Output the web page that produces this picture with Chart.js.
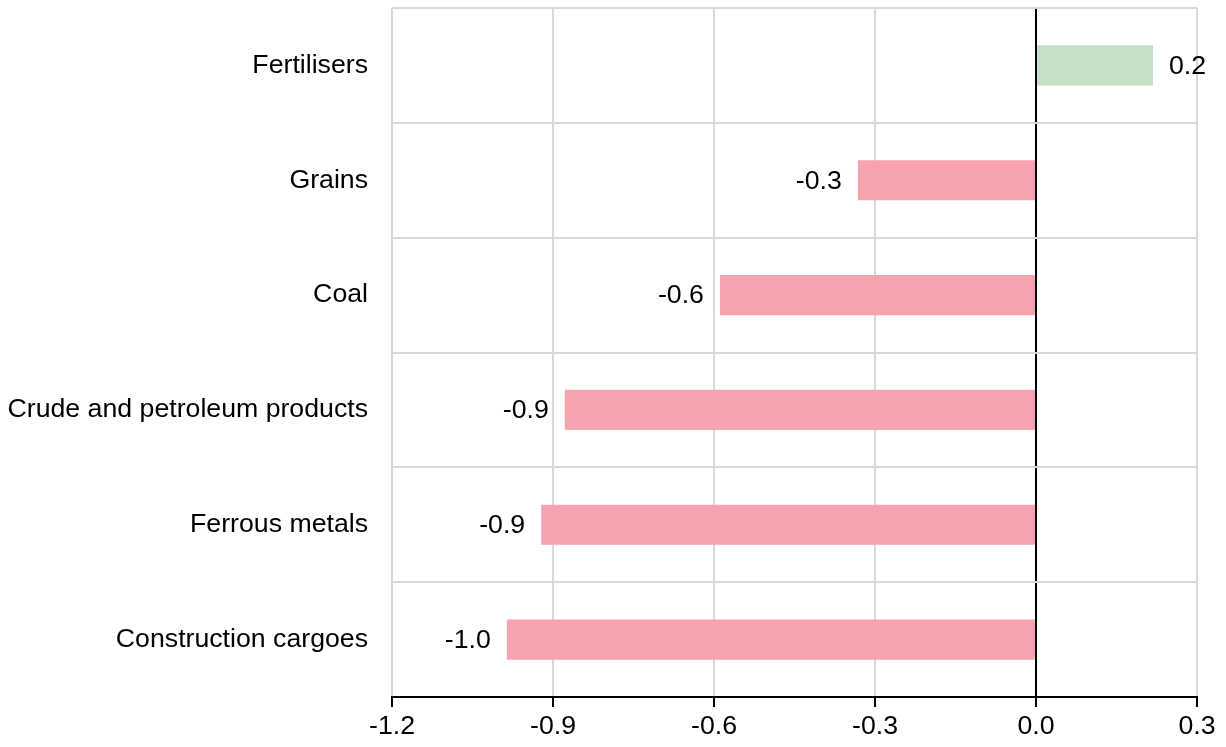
<!DOCTYPE html>
<html><head><meta charset="utf-8">
<script src="https://cdn.jsdelivr.net/npm/chart.js@4/dist/chart.umd.min.js"></script>
<style>html,body{margin:0;padding:0;background:#fff}#wrap{width:1226px;height:747px}</style>
</head><body><div id="wrap"><canvas id="c" width="1226" height="747"></canvas></div>
<script>
const categories = ["Fertilisers","Grains","Coal","Crude and petroleum products","Ferrous metals","Construction cargoes"];
const values = [0.218, -0.332, -0.589, -0.878, -0.922, -0.986];
const xMin = -1.2, xMax = 0.3, xStep = 0.3;
const FONT = "'Liberation Sans', Arial, sans-serif";
const FS = 26.7;

const labelPlugin = {
  id: 'barLabels',
  afterDatasetsDraw(chart) {
    const ctx = chart.ctx;
    const meta = chart.getDatasetMeta(0);
    ctx.save();
    ctx.font = FS + 'px ' + FONT;
    ctx.fillStyle = '#000';
    ctx.textBaseline = 'middle';
    meta.data.forEach((bar, i) => {
      const v = values[i];
      const txt = v.toFixed(1);
      if (v >= 0) { ctx.textAlign = 'left'; ctx.fillText(txt, bar.x + 16, bar.y + 1); }
      else { ctx.textAlign = 'right'; ctx.fillText(txt, bar.x - 16, bar.y + 1); }
    });
    ctx.restore();
  }
};

new Chart(document.getElementById('c'), {
  type: 'bar',
  data: { labels: categories, datasets: [{ data: values,
    backgroundColor: values.map(v => v >= 0 ? '#c6e0c8' : '#f7a2af'),
    barPercentage: 0.35, categoryPercentage: 1.0 }] },
  options: {
    indexAxis: 'y', responsive: false, animation: false,
    layout: { padding: { top: 8, right: 29, left: 0, bottom: 0 } },
    plugins: { legend: { display: false }, tooltip: { enabled: false } },
    scales: {
      x: {
        min: xMin, max: xMax,
        ticks: { stepSize: xStep, color: '#000', font: { family: FONT, size: FS }, padding: 4,
          maxRotation: 0, autoSkip: false,
          callback: v => (Math.abs(v) < 1e-9 ? 0 : v).toFixed(1) },
        grid: { color: c => (c.tick && Math.abs(c.tick.value) < 1e-9) ? '#000' : '#d9d9d9',
          lineWidth: 2, tickColor: '#000', tickLength: 10, drawTicks: true },
        border: { color: '#000', width: 2 },
        afterFit: s => { s.height = 50; s.paddingLeft = 0; s.paddingRight = 0; }
      },
      y: {
        ticks: { color: '#000', font: { family: FONT, size: FS }, padding: 24 },
        grid: { offset: true, color: '#d9d9d9', lineWidth: 2, drawTicks: false },
        border: { display: false },
        afterFit: s => { s.width = 392; s.paddingTop = 0; s.paddingBottom = 0; }
      }
    }
  },
  plugins: [labelPlugin]
});
</script></body></html>
